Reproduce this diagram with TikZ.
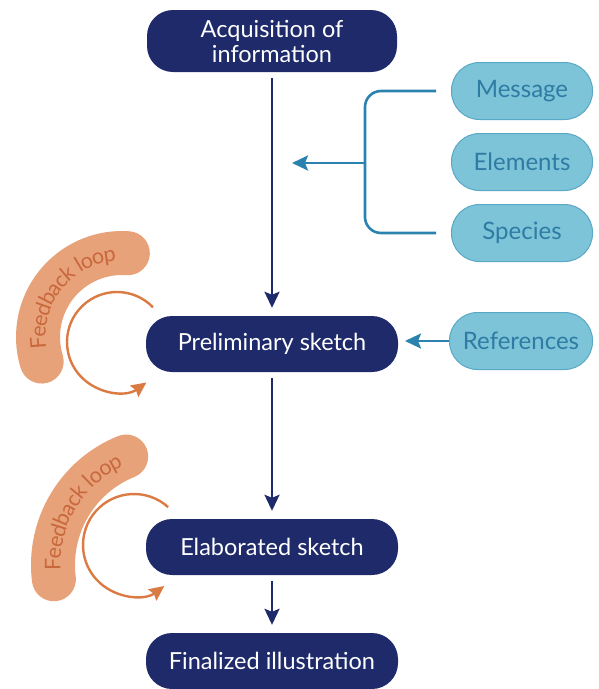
\documentclass[tikz,border=0pt]{standalone}
\usepackage{fontspec}
\setmainfont{Lato}
\usetikzlibrary{arrows.meta,decorations.text,calc}
\definecolor{navy}{HTML}{1E2A6A}
\definecolor{lblue}{HTML}{7DC4D9}
\definecolor{lbord}{HTML}{58A8C6}
\definecolor{ltext}{HTML}{2E7BA3}
\definecolor{bline}{HTML}{2C82AE}
\definecolor{bandc}{HTML}{E8A27A}
\definecolor{bandtxt}{HTML}{C8683C}
\definecolor{orarr}{HTML}{DB7B44}
\begin{document}
\begin{tikzpicture}[x=1pt,y=-1pt,
  darkbox/.style={rectangle, rounded corners=26pt, fill=navy, text=white,
    minimum width=252pt, minimum height=56pt, font=\fontsize{23.5}{25}\selectfont,
    align=center, inner sep=0pt},
  lightbox/.style={rectangle, rounded corners=28pt, fill=lblue, draw=lbord,
    line width=1pt, text=ltext, minimum width=141pt, minimum height=57pt,
    font=\fontsize{24}{26}\selectfont, inner sep=0pt},
  flow/.style={navy, line width=2.6pt, -{Stealth[length=16pt,width=15pt,inset=3pt]},
    shorten <=6pt, shorten >=8pt},
  feed/.style={bline, line width=2.6pt},
  feedarrow/.style={bline, line width=2.6pt, -{Stealth[length=16pt,width=15pt,inset=3pt]}},
  fbband/.style={bandc, line width=44pt, line cap=round},
  fbarrow/.style={orarr, line width=2.4pt, -{Stealth[length=15pt,width=14pt,inset=2pt]}},
  fbtext/.style={decorate, decoration={text along path, text align=center, raise=-7.5pt,
    text={|\color{bandtxt}\fontsize{21.5}{22}\selectfont|Feedback loop}}}
]
\useasboundingbox (0,0) rectangle (598,689);

% main nodes
\node[darkbox, minimum height=62pt, minimum width=250pt] (acq) at (272,41) {Acquisition of\\information};
\node[darkbox] (pre) at (272,344) {Preliminary sketch};
\node[darkbox] (ela) at (272,547) {Elaborated sketch};
\node[darkbox] (fin) at (272,661) {Finalized illustration};

% light nodes
\node[lightbox] (msg) at (522,91) {Message};
\node[lightbox] (ele) at (522,162) {Elements};
\node[lightbox] (spc) at (522,233) {Species};
\node[lightbox, minimum width=143pt] (ref) at (521,341) {References};

% main flow
\draw[flow] (acq) -- (pre);
\draw[flow] (pre) -- (ela);
\draw[flow] (ela) -- (fin);

% bracket
\coordinate (bj) at (365,163);
\coordinate (bt) at (292,163);
\draw[feed, rounded corners=16pt] ([xshift=-15pt]msg.west) -| (bj) |- ([xshift=-15pt]spc.west);
\draw[feedarrow] (bj) -- (bt);
\coordinate (rt) at (405,341);
\draw[feedarrow] (ref.west) -- (rt);

% feedback loop 1
\coordinate (c1) at (122,337);
\draw[fbband] ($(c1)+(-197:84)$) arc[start angle=-197, end angle=-86, radius=84];
\path[fbtext] ($(c1)+(-199:84)$) arc[start angle=-199, end angle=-84, radius=84];
\coordinate (o1) at (117,342);
\draw[fbarrow] ($(o1)+(-44:50)$) arc[start angle=-44, end angle=-306, radius=50];

% feedback loop 2
\coordinate (c2) at (170,565);
\draw[fbband] ($(c2)+(-187:117)$) arc[start angle=-187, end angle=-112, radius=117];
\path[fbtext] ($(c2)+(-188:117)$) arc[start angle=-188, end angle=-110, radius=117];
\coordinate (o2) at (134,545);
\draw[fbarrow] ($(o2)+(-48:51)$) arc[start angle=-48, end angle=-306.5, radius=51];
\end{tikzpicture}
\end{document}
